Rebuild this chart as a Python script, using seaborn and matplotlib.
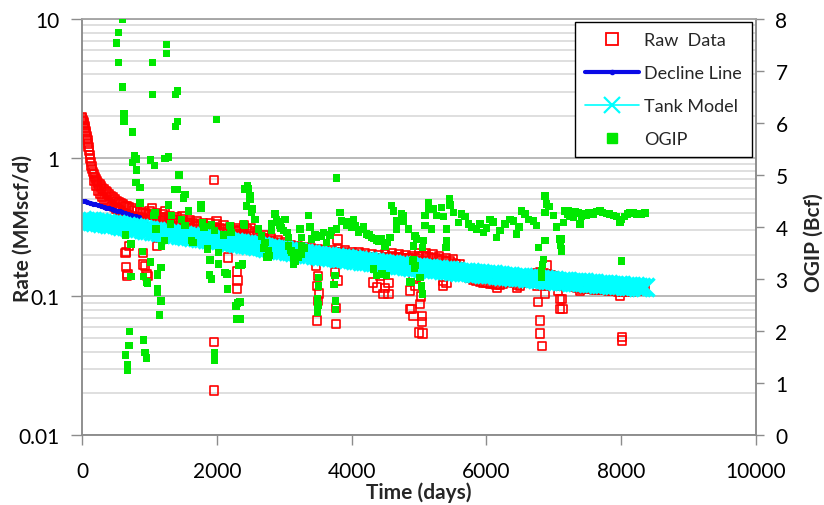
import numpy as np
import pandas as pd
import matplotlib
matplotlib.use("Agg")
import matplotlib.pyplot as plt
import seaborn as sns
from matplotlib.lines import Line2D
from matplotlib.ticker import LogLocator, FixedLocator, NullFormatter, FuncFormatter

# ---------------- data ----------------
# Raw data: early decline (days, MMscf/d)
raw_t_early = [0, 5, 10, 15, 20, 28, 35, 42, 50, 58, 66, 74, 82, 90, 98, 106, 114, 122, 130, 140,
               150, 162, 175, 190, 205, 220, 240, 260, 280, 300, 325, 350, 375, 400, 430, 460, 490,
               520, 550, 580, 610, 640, 670, 700, 740, 780, 820, 860, 900, 950]
raw_r_early = [1.95, 1.92, 1.88, 1.84, 1.80, 1.75, 1.70, 1.63, 1.56, 1.50, 1.44, 1.39, 1.34, 1.27, 1.20,
               1.13, 1.05, 0.99, 0.93, 0.87, 0.83, 0.79, 0.76, 0.73, 0.70, 0.68, 0.66, 0.64, 0.62, 0.60,
               0.59, 0.57, 0.56, 0.55, 0.53, 0.52, 0.50, 0.49, 0.48, 0.47, 0.46, 0.45, 0.445, 0.44, 0.43,
               0.42, 0.41, 0.405, 0.40, 0.395]
# lower edge of the early band
raw_t_early2 = [180, 210, 240, 270, 300, 330, 360, 390, 420, 450, 480, 510, 540, 570, 600, 650, 700,
                750, 800, 850, 900]
raw_r_early2 = [0.68, 0.63, 0.58, 0.55, 0.52, 0.50, 0.48, 0.47, 0.46, 0.45, 0.44, 0.43, 0.42, 0.41,
                0.40, 0.39, 0.385, 0.38, 0.375, 0.37, 0.365]
# main trend, every 50 days from 1000 to 8350
raw_t_main = list(range(1000, 8400, 50))
raw_r_main = [0.390, 0.385, 0.380, 0.375, 0.370, 0.365, 0.360, 0.358, 0.352, 0.348,
              0.345, 0.342, 0.338, 0.335, 0.330, 0.328, 0.325, 0.322, 0.318, 0.315,
              0.312, 0.310, 0.306, 0.303, 0.300, 0.298, 0.296, 0.300, 0.310, 0.305,
              0.295, 0.285, 0.275, 0.268, 0.262, 0.256, 0.250, 0.246, 0.242, 0.238,
              0.233, 0.228, 0.224, 0.222, 0.220, 0.218, 0.215, 0.213, 0.212, 0.210,
              0.208, 0.207, 0.206, 0.205, 0.206, 0.210, 0.210, 0.207, 0.205, 0.203,
              0.201, 0.200, 0.199, 0.197, 0.195, 0.193, 0.191, 0.190, 0.190, 0.190,
              0.191, 0.193, 0.195, 0.193, 0.191, 0.190, 0.190, 0.188, 0.187, 0.190,
              0.195, 0.196, 0.195, 0.193, 0.190, 0.188, 0.185, 0.182, 0.180, 0.178,
              0.175, 0.170, 0.163, 0.152, 0.142, 0.135, 0.131, 0.129, 0.127, 0.126,
              0.125, 0.124, 0.123, 0.122, 0.121, 0.124, 0.128, 0.127, 0.125, 0.122,
              0.120, 0.125, 0.130, 0.137, 0.143, 0.148, 0.150, 0.148, 0.145, 0.142,
              0.140, 0.138, 0.136, 0.134, 0.132, 0.125, 0.118, 0.115, 0.114, 0.114,
              0.113, 0.113, 0.112, 0.112, 0.111, 0.111, 0.110, 0.110, 0.109, 0.108,
              0.108, 0.107, 0.107, 0.108, 0.109, 0.110, 0.112, 0.115]
# upper edge of the band, every 100 days from 1000 to 5600
raw_t_upper = list(range(1000, 5700, 100))
raw_r_upper = [0.41, 0.40, 0.39, 0.38, 0.37, 0.36, 0.355, 0.35, 0.34, 0.335,
               0.33, 0.325, 0.315, 0.31, 0.325, 0.31, 0.29, 0.275, 0.262, 0.254,
               0.245, 0.235, 0.23, 0.226, 0.222, 0.218, 0.216, 0.216, 0.22, 0.215,
               0.21, 0.208, 0.204, 0.20, 0.198, 0.20, 0.205, 0.20, 0.198, 0.196,
               0.205, 0.205, 0.20, 0.194, 0.19, 0.184, 0.172]
raw_t_mid2 = list(range(1000, 2500, 100))
raw_r_mid2 = [0.36, 0.355, 0.35, 0.345, 0.34, 0.33, 0.325, 0.32, 0.31, 0.305, 0.30, 0.29, 0.285,
              0.28, 0.275]
# scattered raw points (day, rate)
raw_outliers = [(613, 0.36), (761, 0.35), (885, 0.34), (1034, 0.43), (1231, 0.41), (1479, 0.38),
                (1676, 0.32), (1998, 0.35), (1963, 0.69), (653, 0.21), (653, 0.162), (677, 0.145),
                (663, 0.141), (697, 0.232), (648, 0.205), (910, 0.205), (910, 0.17), (935, 0.166),
                (959, 0.145), (974, 0.141), (1108, 0.232), (1963, 0.047), (1963, 0.021),
                (2171, 0.191), (2295, 0.151), (2295, 0.114), (2320, 0.274), (2305, 0.13),
                (3471, 0.167), (3491, 0.119), (3506, 0.093), (3491, 0.067), (3500, 0.14),
                (3520, 0.105), (3793, 0.257), (3793, 0.13), (3764, 0.082), (3764, 0.063),
                (3750, 0.15), (4322, 0.126), (4372, 0.116), (4471, 0.104), (4545, 0.104),
                (4545, 0.125), (4420, 0.14), (4500, 0.115), (4866, 0.11), (4866, 0.081),
                (4916, 0.072), (4891, 0.081), (4916, 0.134), (5015, 0.088), (5040, 0.072),
                (5040, 0.065), (5050, 0.054), (5000, 0.055), (5030, 0.1), (4950, 0.12),
                (5356, 0.13), (5356, 0.12), (5410, 0.126), (6157, 0.115), (6450, 0.115),
                (6770, 0.091), (6795, 0.067), (6795, 0.054), (6820, 0.044), (6869, 0.104),
                (6894, 0.167), (6840, 0.12), (6760, 0.12), (7067, 0.11), (7092, 0.096),
                (7092, 0.081), (7117, 0.096), (7131, 0.081), (7100, 0.12), (7389, 0.109),
                (7982, 0.101), (8007, 0.051), (8007, 0.048)]

# Decline line
decline_t = list(range(0, 841, 40))
decline_r = [0.490, 0.485, 0.479, 0.473, 0.467, 0.461, 0.455, 0.449, 0.443, 0.437, 0.432,
             0.426, 0.421, 0.415, 0.410, 0.404, 0.399, 0.394, 0.388, 0.383, 0.378, 0.373]

# Tank model, every 50 days
tank_t = list(range(0, 8400, 50))
tank_r = [0.355, 0.352, 0.350, 0.347, 0.345, 0.342, 0.340, 0.337, 0.335, 0.332, 0.330,
          0.327, 0.324, 0.321, 0.318, 0.315, 0.312, 0.309, 0.306, 0.303, 0.300,
          0.297, 0.295, 0.292, 0.290, 0.287, 0.285, 0.282, 0.280, 0.277, 0.275,
          0.273, 0.271, 0.269, 0.267, 0.265, 0.263, 0.261, 0.259, 0.257, 0.255,
          0.253, 0.251, 0.249, 0.247, 0.245, 0.243, 0.241, 0.239, 0.237, 0.235,
          0.233, 0.231, 0.229, 0.227, 0.225, 0.223, 0.221, 0.219, 0.217, 0.215,
          0.213, 0.211, 0.210, 0.208, 0.206, 0.205, 0.203, 0.201, 0.200, 0.198,
          0.197, 0.195, 0.194, 0.193, 0.191, 0.190, 0.189, 0.188, 0.186, 0.185,
          0.184, 0.182, 0.181, 0.180, 0.179, 0.177, 0.176, 0.175, 0.173, 0.172,
          0.171, 0.170, 0.169, 0.168, 0.167, 0.166, 0.165, 0.164, 0.163, 0.162,
          0.161, 0.160, 0.159, 0.158, 0.157, 0.157, 0.156, 0.155, 0.154, 0.153,
          0.152, 0.151, 0.151, 0.150, 0.149, 0.148, 0.148, 0.147, 0.146, 0.145,
          0.144, 0.144, 0.143, 0.142, 0.141, 0.141, 0.140, 0.139, 0.138, 0.137,
          0.137, 0.136, 0.136, 0.135, 0.134, 0.134, 0.133, 0.132, 0.132, 0.131,
          0.130, 0.130, 0.129, 0.129, 0.128, 0.127, 0.127, 0.126, 0.126, 0.125,
          0.124, 0.124, 0.123, 0.123, 0.122, 0.122, 0.121, 0.121, 0.120, 0.120,
          0.119, 0.119, 0.118, 0.118, 0.117, 0.117, 0.116]

# OGIP (day, Bcf)
ogip_points = [
    (598, 8.0), (539, 7.74), (514, 7.54), (539, 7.17), (598, 6.69), (623, 6.17), (623, 6.04),
    (752, 5.83), (1256, 7.51), (1256, 7.34), (1044, 7.17), (1044, 6.55), (1414, 6.62), (1385, 6.55),
    (1414, 6.03), (1385, 5.93), (1993, 6.07), (777, 5.38), (747, 5.24), (812, 5.31), (1014, 5.29),
    (1073, 5.18), (1232, 5.32), (1281, 5.35), (812, 5.1), (1439, 5.0), (1380, 4.72), (1410, 4.72),
    (1528, 4.63), (1503, 4.56), (801, 4.86), (861, 4.76), (861, 4.46), (1281, 4.42), (1766, 4.42),
    (1766, 4.36), (1068, 4.22), (1331, 4.22), (1316, 4.06), (1577, 4.31), (1479, 4.15), (1528, 4.03),
    (1098, 3.96), (1785, 4.08), (1810, 4.0), (1924, 4.04), (1963, 3.93), (2097, 3.85), (2211, 3.9),
    (2196, 4.03), (2408, 4.04), (2468, 4.74), (2493, 4.6), (2443, 4.41), (2520, 4.35), (1627, 3.74),
    (1650, 3.7), (1865, 3.58), (2023, 3.51), (1899, 3.37), (2023, 3.29), (2122, 3.13), (2150, 3.1),
    (2319, 3.26), (2360, 3.26), (2161, 2.81), (1889, 3.08), (1924, 3.0), (648, 3.85), (727, 3.67),
    (900, 3.53), (1019, 3.33), (1172, 3.22), (1117, 3.08), (727, 3.05), (910, 3.05), (974, 2.92),
    (959, 2.94), (1123, 3.1), (1123, 2.82), (1083, 4.28), (1182, 3.64), (1221, 3.74),
    (702, 1.99), (697, 1.72), (648, 1.54), (672, 1.35), (672, 1.24), (910, 1.83), (935, 1.59),
    (955, 1.48), (1123, 2.74), (1172, 2.58), (1148, 2.31), (1969, 1.59), (1969, 1.44), (2310, 2.54),
    (2285, 2.48), (2295, 2.23), (2344, 2.56), (2344, 2.23), (2764, 3.42), (3135, 3.32),
    (2453, 4.79), (2418, 4.73), (2493, 4.54), (2443, 4.4), (2517, 4.28), (2567, 4.15), (2616, 3.96),
    (2666, 3.83), (2715, 3.7), (2764, 3.54), (2740, 3.42), (2393, 4.06), (2383, 3.29),
    (2864, 4.25), (2888, 4.15), (2814, 4.06), (2814, 3.93), (2938, 4.03), (3012, 4.15), (2987, 3.93),
    (3061, 3.8), (3061, 3.64), (3110, 3.51), (3135, 3.38), (3135, 3.29), (3209, 3.42), (3259, 3.48),
    (3259, 3.64), (3234, 3.96), (3259, 3.8), (3358, 4.22), (3383, 4.0), (3408, 3.77), (3457, 3.85),
    (3482, 3.8), (3556, 3.83), (3630, 3.7), (3705, 3.93), (3779, 3.96), (3828, 4.28), (3853, 4.12),
    (3779, 4.94), (3927, 4.03), (4026, 4.15), (4050, 4.03), (4100, 3.9), (4174, 4.0), (4224, 3.87),
    (4298, 3.8), (4372, 3.74), (4447, 3.77), (4496, 3.64), (4570, 3.8), (4595, 4.41), (4620, 4.31),
    (4669, 4.12), (4669, 3.96), (4743, 4.25), (4768, 4.12), (4842, 3.96), (4916, 3.64), (4941, 3.83),
    (3580, 3.9), (3680, 3.85), (3950, 4.1), (4000, 4.0), (4130, 3.95), (4260, 3.85), (4330, 3.78),
    (4400, 3.72), (4530, 3.7), (3300, 3.6), (3160, 3.35), (3180, 3.5), (2780, 3.45), (2700, 3.6),
    (2950, 3.98), (2900, 4.1), (3040, 3.9), (3100, 3.55),
    (3506, 3.03), (3506, 2.87), (3491, 2.62), (3491, 2.36), (3500, 2.5), (3754, 3.07), (3739, 2.9),
    (3764, 2.58), (3764, 2.41), (4322, 3.19), (4372, 3.07), (4520, 3.07), (4450, 3.1), (4891, 2.94),
    (4916, 3.38), (4930, 3.2),
    (4768, 4.22), (4966, 3.77), (5064, 3.74), (5054, 3.61), (5089, 4.03), (5089, 4.22), (5138, 4.47),
    (5140, 4.35), (5188, 3.96), (5213, 4.35), (5262, 4.22), (5336, 4.38), (5360, 4.2), (5410, 3.96),
    (5410, 3.74), (5401, 3.61), (5450, 4.54), (5460, 4.42), (5509, 4.28), (5583, 4.09), (5633, 4.25),
    (5680, 4.2), (5732, 4.06), (5781, 4.0), (5855, 3.96), (5905, 4.06), (5954, 3.9), (6000, 3.98),
    (6053, 4.15), (6100, 4.1), (6152, 3.8), (6202, 3.93), (6276, 4.06), (6350, 4.15), (6400, 4.12),
    (6449, 3.87), (6480, 4.0), (6523, 4.31), (6570, 4.25), (6622, 4.15), (6696, 4.12), (6746, 4.03),
    (6869, 4.6), (6894, 4.44), (6869, 4.28), (6930, 4.4), (6993, 4.22), (7043, 4.0), (7092, 3.77),
    (7117, 3.54), (7141, 4.09), (7215, 4.31), (7289, 4.19), (7320, 4.3),
    (4900, 3.35), (4941, 3.26), (4866, 2.94), (5015, 3.03), (5040, 2.87), (5054, 2.71), (6845, 3.38),
    (6820, 3.16), (6820, 3.03), (6770, 3.61), (6869, 3.74), (6830, 3.28),
    (7166, 4.31), (7240, 4.2), (7339, 4.28), (7389, 4.06), (7440, 4.25), (7488, 4.22), (7590, 4.25),
    (7685, 4.31), (7780, 4.26), (7883, 4.22), (7982, 4.09), (8050, 4.2), (8131, 4.28), (8230, 4.25),
    (8304, 4.25), (8350, 4.27), (8007, 3.35), (7117, 3.77), (7117, 3.58), (7100, 3.65),
    (7200, 4.25), (7270, 4.3), (7360, 4.27), (7410, 4.2), (7520, 4.28), (7550, 4.24), (7640, 4.3),
    (7720, 4.28), (7830, 4.25), (7930, 4.2), (8000, 4.15), (8090, 4.25), (8180, 4.27), (8270, 4.24)]

x_ticks = [0, 2000, 4000, 6000, 8000, 10000]
rate_ticks = [0.01, 0.1, 1, 10]
ogip_ticks = [0, 1, 2, 3, 4, 5, 6, 7, 8]

# ---------------- assemble ----------------
raw_df = pd.DataFrame({
    "t": raw_t_early + raw_t_early2 + raw_t_main + raw_t_upper + raw_t_mid2
         + [p[0] for p in raw_outliers],
    "rate": raw_r_early + raw_r_early2 + raw_r_main + raw_r_upper + raw_r_mid2
            + [p[1] for p in raw_outliers],
})
dec_df = pd.DataFrame({"t": decline_t, "rate": decline_r})
tank_df = pd.DataFrame({"t": tank_t, "rate": tank_r})
ogip_df = pd.DataFrame({"t": [p[0] for p in ogip_points], "ogip": [p[1] for p in ogip_points]})

# ---------------- style ----------------
sns.set_theme(style="white")
plt.rcParams['font.family'] = ['Lato', 'DejaVu Sans']

RED = "#ff0000"
BLUE = "#0a0ae6"
CYAN = "#00ffff"
GREEN = "#00e800"
GRID_MAJ = "#a6a6a6"
GRID_MIN = "#d6d6d6"
SPINE = "#8c8c8c"

fig = plt.figure(figsize=(8.24, 5.06), dpi=100)
ax = fig.add_axes([0.0995, 0.1383, 0.818, 0.822])

sns.scatterplot(data=raw_df, x="t", y="rate", ax=ax, marker="s", s=36,
                facecolors="none", edgecolor=RED, linewidth=1.2, zorder=2, legend=False)
sns.lineplot(data=dec_df, x="t", y="rate", ax=ax, color=BLUE, lw=2.6, marker="o",
             markersize=3, markeredgecolor=BLUE, markerfacecolor=BLUE, estimator=None,
             sort=False, zorder=3, legend=False)
sns.lineplot(data=tank_df, x="t", y="rate", ax=ax, color=CYAN, lw=1.0, marker="x",
             markersize=12.5, markeredgewidth=2.5, markeredgecolor=CYAN, estimator=None,
             sort=False, zorder=4, legend=False)

ax.set_yscale("log")
ax.set_ylim(0.01, 10)
ax.set_xlim(0, 10000)
ax.xaxis.set_major_locator(FixedLocator(x_ticks))
ax.yaxis.set_major_locator(FixedLocator(rate_ticks))
ax.yaxis.set_major_formatter(FuncFormatter(lambda v, _: f"{v:g}"))
ax.yaxis.set_minor_locator(LogLocator(base=10, subs=np.arange(2, 10), numticks=20))
ax.yaxis.set_minor_formatter(NullFormatter())
ax.set_axisbelow(True)
ax.yaxis.grid(True, which="major", color=GRID_MAJ, lw=1.1)
ax.yaxis.grid(True, which="minor", color=GRID_MIN, lw=1.1)
ax.xaxis.grid(False)

ax.tick_params(axis="y", which="major", left=True, direction="out", length=8, width=1,
               color=SPINE, labelsize=15, pad=8, labelcolor="black")
ax.tick_params(axis="y", which="minor", left=False, length=0)
ax.tick_params(axis="x", which="major", bottom=True, direction="out", length=7, width=1,
               color=SPINE, labelsize=15, pad=12, labelcolor="black")

ax2 = ax.twinx()
sns.scatterplot(data=ogip_df, x="t", y="ogip", ax=ax2, marker="s", s=29, color=GREEN,
                edgecolor="none", linewidth=0, zorder=5, legend=False)
ax2.set_ylim(0, 8)
ax2.set_xlim(0, 10000)
ax2.yaxis.set_major_locator(FixedLocator(ogip_ticks))
ax2.grid(False)
ax2.tick_params(axis="y", which="major", right=True, direction="out", length=6, width=1,
                color=SPINE, labelsize=15, pad=8, labelcolor="black")

for a in (ax, ax2):
    for side in ("left", "right", "bottom", "top"):
        a.spines[side].set_color(SPINE)
        a.spines[side].set_linewidth(1.1)
    a.spines["top"].set_color(GRID_MAJ)

ax.set_xlabel("Time (days)", fontsize=15, fontweight="bold", labelpad=0)
ax.set_ylabel("Rate (MMscf/d)", fontsize=15, fontweight="bold")
ax.yaxis.set_label_coords(-0.073, 0.498)
ax2.set_ylabel("OGIP (Bcf)", fontsize=15, fontweight="bold")
ax2.yaxis.set_label_coords(1.071, 0.466)

handles = [
    Line2D([], [], ls="none", marker="s", ms=8, mfc="none", mec=RED, mew=1.3),
    Line2D([], [], color=BLUE, lw=3, marker="o", ms=3),
    Line2D([], [], color=CYAN, lw=1.2, marker="x", ms=11, mew=1.6),
    Line2D([], [], ls="none", marker="s", ms=7, color=GREEN),
]
labels = ["Raw  Data", "Decline Line", "Tank Model", "OGIP"]
leg = ax2.legend(handles, labels, loc="upper right", bbox_to_anchor=(0.994, 0.993),
                 borderaxespad=0, frameon=True, fancybox=False, edgecolor="black",
                 framealpha=1, fontsize=13, handlelength=3.0, labelspacing=0.95,
                 borderpad=0.55, handletextpad=0.3)
leg.get_frame().set_linewidth(1.0)
leg.set_zorder(10)

fig.savefig("out.png", dpi=100)
